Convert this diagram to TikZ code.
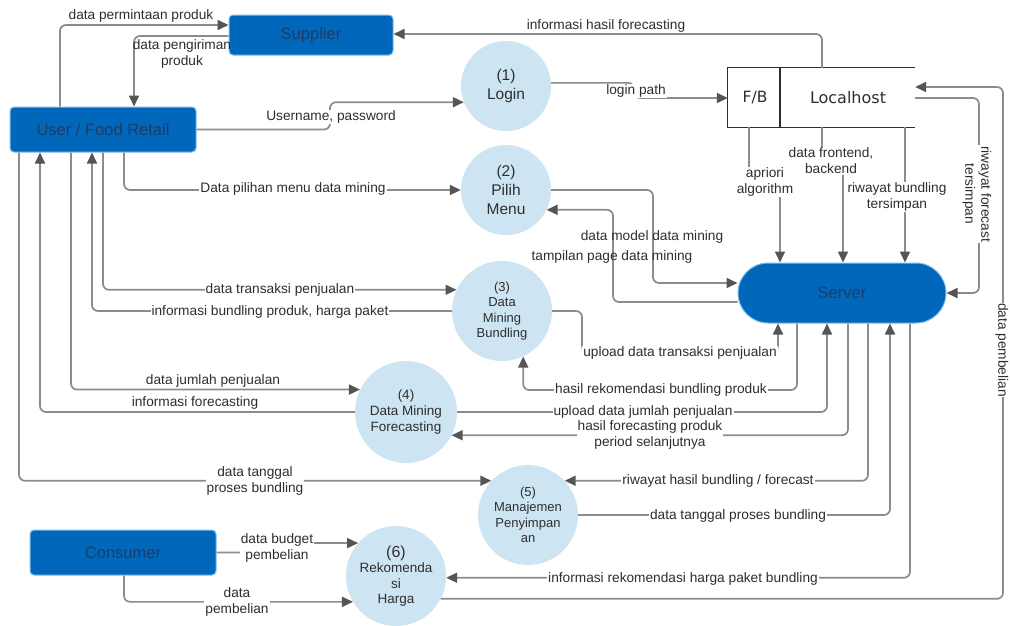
\documentclass[tikz,border=0pt]{standalone}
\usepackage{fontspec}
\setmainfont{Liberation Sans}
\newfontfamily\dvsfont{DejaVu Sans}
\usetikzlibrary{arrows.meta,calc}
\definecolor{entblue}{HTML}{0067BB}
\definecolor{entedge}{HTML}{7CC0EE}
\definecolor{enttext}{HTML}{1E3D66}
\definecolor{circfill}{HTML}{CDE5F3}
\definecolor{linec}{HTML}{8C8C8C}
\definecolor{arrowc}{HTML}{555555}
\definecolor{txtc}{HTML}{2E2E2E}
\newcommand\lblfont{\fontsize{13.7}{16}\selectfont}
\begin{document}
\begin{tikzpicture}[x=1pt,y=-1pt,
  ent/.style={rectangle, rounded corners=4pt, fill=entblue, draw=entedge, line width=1pt, text=enttext, font=\fontsize{16.5}{19}\selectfont},
  proc/.style={circle, fill=circfill, inner sep=0pt, align=center, text=txtc},
  flow/.style={draw=linec, line width=1.7pt, rounded corners=6pt, -{Triangle[length=11pt,width=10pt,color=arrowc]}},
  lbl/.style={fill=white, inner sep=1pt, text=txtc, align=center, font=\lblfont},
  lbln/.style={inner sep=1pt, text=txtc, align=center, font=\lblfont},
  ]
\useasboundingbox[fill=white] (0,0) rectangle (1010,625);

% entities
\node[ent, minimum width=164pt, minimum height=40pt] (supp) at (311,35) {Supplier};
\node[ent, minimum width=186pt, minimum height=45pt] (user) at (103,129.5) {User / Food Retail};
\node[ent, minimum width=186pt, minimum height=45pt] (cons) at (123,552.5) {Consumer};
\node[ent, rounded corners=30pt, minimum width=208pt, minimum height=60pt] (serv) at (842,293) {Server};

% data store
\node[minimum width=187pt, minimum height=59pt, inner sep=0pt] (lh) at (821.5,97.5) {};
\draw[line width=1.3pt, draw=txtc] (lh.north east) -- (lh.north west) -- (lh.south west) -- (lh.south east);
\draw[line width=1.3pt, draw=txtc] (780,0 |- lh.north) -- (780,0 |- lh.south);
\node[text=txtc, font=\dvsfont\fontsize{15.5}{18}\selectfont] (fb) at (755,98) {F/B};
\node[text=txtc, font=\dvsfont\fontsize{16}{18}\selectfont] (lhtxt) at (848,98) {Localhost};

% processes
\node[proc, minimum size=90pt, font=\fontsize{15.5}{19}\selectfont] (login) at (506,86) {(1)\\Login};
\node[proc, minimum size=90pt, font=\fontsize{15.5}{19}\selectfont] (menu) at (506,190) {(2)\\Pilih\\Menu};
\node[proc, minimum size=100pt, font=\fontsize{13}{15.5}\selectfont] (dmb) at (502,311) {(3)\\Data\\Mining\\Bundling};
\node[proc, minimum size=102pt, font=\fontsize{13.5}{16}\selectfont] (fc) at (406,412) {(4)\\Data Mining\\Forecasting};
\node[proc, minimum size=100pt, font=\fontsize{13}{15.5}\selectfont] (man) at (528,515) {(5)\\Manajemen\\Penyimpan\\an};
\node[proc, minimum size=100pt, font=\fontsize{13.5}{15.5}\selectfont] (reko) at (396,576) {{\fontsize{16}{18}\selectfont (6)}\\Rekomenda\\si\\Harga};

% connectors
\draw[flow] (60,0 |- user.north) |- (supp.west |- 0,25);
\draw[flow] (supp.west |- 0,36) -| (134,0 |- user.north);
\draw[flow] (822,0 |- lh.north) |- (supp.east |- 0,34);
\draw[flow] (user.east) -- (330,0 |- user.east) |- (login.201);
\draw[flow] (login.4) -- (634,0 |- login.4) |- (lh.west |- 0,98);
\draw[flow] (749,0 |- lh.south) -- (749,183) -| (780,0 |- serv.north);
\draw[flow] (822,0 |- lh.south) -- (822,161) -| (843,0 |- serv.north);
\draw[flow] (905,0 |- lh.south) -- (905,0 |- serv.north);
\draw[flow] (lh.east |- 0,98) -| (979,0 |- serv.east) -- (serv.east);
\draw[flow] (reko.-27) -| (1003,87) -- (lh.east |- 0,87);

\draw[flow] (124,0 |- user.south) |- (menu.west);
\draw[flow] (103,0 |- user.south) |- (dmb.155);
\draw[flow] (dmb.west) -| (92,0 |- user.south);
\draw[flow] (71,0 |- user.south) |- (fc.154);
\draw[flow] (fc.west) -| (40,0 |- user.south);
\draw[flow] (19,0 |- user.south) |- (man.137);

\draw[flow] (menu.east) -- (653,0 |- menu.east) |- (serv.west |- 0,283);
\draw[flow] (serv.west |- 0,302) -| (613,0 |- menu.-26) -- (menu.-26);
\draw[flow] (dmb.east) -- (582,0 |- dmb.east) |- (778,352) -- (778,0 |- serv.south);
\draw[flow] (797,0 |- serv.south) |- (dmb.295 |- 0,390) -- (dmb.295);
\draw[flow] (fc.east) -| (827,0 |- serv.south);
\draw[flow] (848,0 |- serv.south) |- (fc.-27);
\draw[flow] (868,0 |- serv.south) |- (man.43);
\draw[flow] (man.east) -| (890,0 |- serv.south);
\draw[flow] (910,0 |- serv.south) |- (reko.-2);

\draw[flow] (cons.east) -- (290,0 |- cons.east) |- (reko.139);
\draw[flow] (124,0 |- cons.south) |- (reko.211);

% labels
\node[lbln] (l1) at (141,16) {data permintaan produk};
\node[lbln] (l2) at (182,54) {data pengiriman\\produk};
\node[lbln] (l3) at (606,26) {informasi hasil forecasting};
\node[lbl] (l4) at (331,117) {Username, password};
\node[lbl] (l5) at (636,91) {login path};
\node[lbl] (l6) at (765,182) {apriori\\algorithm};
\node[lbl] (l7) at (831,161) {data frontend,\\backend};
\node[lbl] (l8) at (897,197) {riwayat bundling\\tersimpan};
\node[lbl, rotate=-90] (l9) at (977,194) {riwayat forecast\\tersimpan};
\node[lbl, rotate=-90, inner sep=0.5pt] (l10) at (1002,350) {data pembelian};
\node[lbl] (l11) at (293,189) {Data pilihan menu data mining};
\node[lbl] (l12) at (280,290) {data transaksi penjualan};
\node[lbl] (l13) at (270,312) {informasi bundling produk, harga paket};
\node[lbln] (l14) at (213,381) {data jumlah penjualan};
\node[lbln] (l15) at (195,403) {informasi forecasting};
\node[lbl] (l16) at (255,481) {data tanggal\\proses bundling};
\node[lbln] (l17) at (652,237) {data model data mining};
\node[lbln] (l18) at (612,257) {tampilan page data mining};
\node[lbl] (l19) at (680,353) {upload data transaksi penjualan};
\node[lbl] (l20) at (661,390) {hasil rekomendasi bundling produk};
\node[lbl] (l21) at (643,412) {upload data jumlah penjualan};
\node[lbl] (l22) at (650,435) {hasil forecasting produk\\period selanjutnya};
\node[lbl] (l23) at (718,481) {riwayat hasil bundling / forecast};
\node[lbl] (l24) at (738,516) {data tanggal proses bundling};
\node[lbl] (l25) at (683,579) {informasi rekomendasi harga paket bundling};
\node[lbl] (l26) at (277,548) {data budget\\pembelian};
\node[lbl] (l27) at (237,602) {data\\pembelian};
\end{tikzpicture}
\end{document}
